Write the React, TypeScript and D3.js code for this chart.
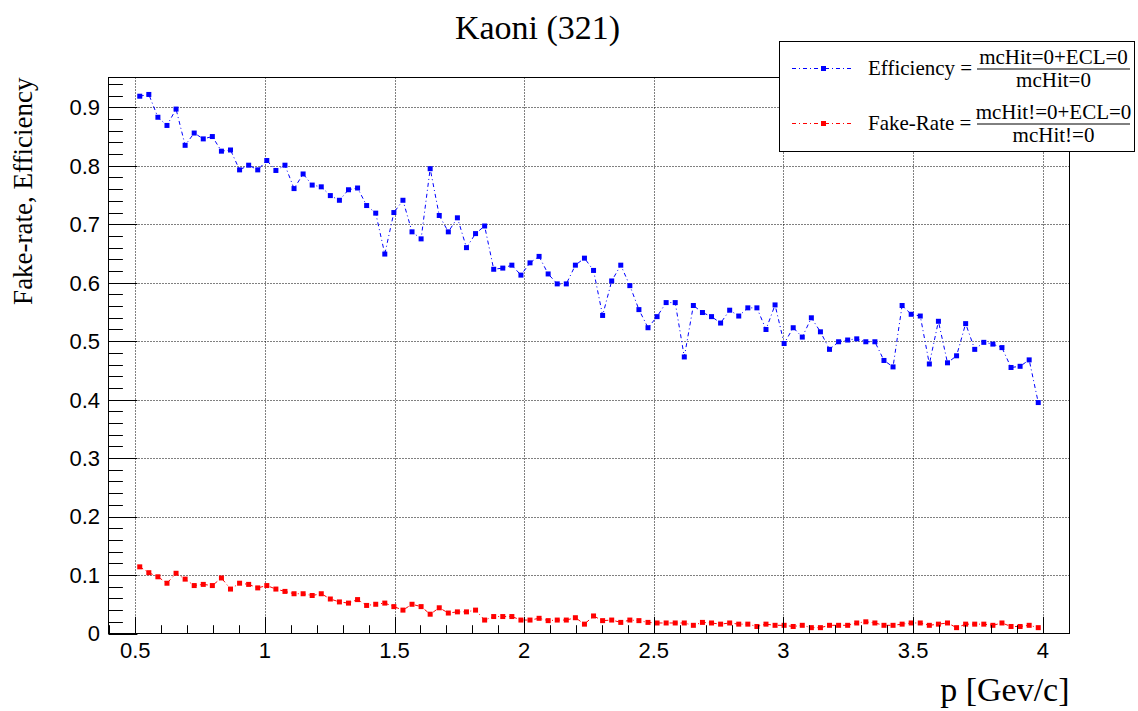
import React from "react";
import * as d3 from "d3";

// ---- data ----
const binLow = 0.5;
const binHigh = 4.0;
const nBins = 100;

const efficiency = [
  0.919, 0.922, 0.883, 0.869, 0.897, 0.835, 0.856, 0.846, 0.850, 0.825,
  0.827, 0.793, 0.801, 0.793, 0.809, 0.792, 0.801, 0.761, 0.786, 0.767,
  0.764, 0.749, 0.741, 0.759, 0.762, 0.732, 0.719, 0.649, 0.720, 0.741,
  0.687, 0.675, 0.795, 0.715, 0.687, 0.711, 0.660, 0.684, 0.697, 0.623,
  0.625, 0.630, 0.613, 0.634, 0.645, 0.615, 0.598, 0.598, 0.630, 0.642,
  0.621, 0.544, 0.603, 0.630, 0.595, 0.554, 0.523, 0.542, 0.566, 0.566,
  0.473, 0.561, 0.549, 0.542, 0.531, 0.553, 0.543, 0.557, 0.557, 0.520,
  0.562, 0.496, 0.523, 0.507, 0.540, 0.516, 0.486, 0.499, 0.502, 0.504,
  0.499, 0.499, 0.467, 0.456, 0.561, 0.546, 0.543, 0.461, 0.534, 0.463,
  0.475, 0.530, 0.486, 0.498, 0.495, 0.489, 0.455, 0.457, 0.468, 0.395,
];

const fakeRate = [
  0.114, 0.104, 0.097, 0.086, 0.103, 0.093, 0.082, 0.084, 0.082, 0.095,
  0.076, 0.086, 0.084, 0.078, 0.082, 0.076, 0.072, 0.068, 0.068, 0.065,
  0.068, 0.059, 0.054, 0.052, 0.058, 0.048, 0.050, 0.052, 0.046, 0.040,
  0.050, 0.046, 0.033, 0.044, 0.035, 0.037, 0.037, 0.040, 0.023, 0.029,
  0.029, 0.029, 0.023, 0.023, 0.026, 0.022, 0.023, 0.023, 0.027, 0.016,
  0.030, 0.022, 0.023, 0.019, 0.023, 0.022, 0.019, 0.018, 0.018, 0.018,
  0.018, 0.014, 0.019, 0.018, 0.016, 0.018, 0.016, 0.016, 0.012, 0.016,
  0.014, 0.014, 0.012, 0.014, 0.010, 0.010, 0.014, 0.014, 0.014, 0.018,
  0.020, 0.018, 0.014, 0.014, 0.016, 0.018, 0.018, 0.014, 0.016, 0.018,
  0.010, 0.016, 0.016, 0.016, 0.014, 0.018, 0.012, 0.012, 0.014, 0.010,
];

const xTickLabels = ["0.5", "1", "1.5", "2", "2.5", "3", "3.5", "4"];
const yTickLabels = ["0", "0.1", "0.2", "0.3", "0.4", "0.5", "0.6", "0.7", "0.8", "0.9"];

const titleText = "Kaoni (321)";
const xTitle = "p [Gev/c]";
const yTitle = "Fake-rate, Efficiency";

// ---- layout ----
const W = 1138;
const H = 711;
const L = 108.5, R = 1069.5, T = 77.5, B = 633.5;
const serif = "'Liberation Serif', 'Times New Roman', serif";
const sans = "'Liberation Sans', Arial, Helvetica, sans-serif";
const dash = "4,3,1,3";

export default function App() {
  const binW = (binHigh - binLow) / nBins;
  const centers = d3.range(nBins).map((i) => binLow + binW * (i + 0.5));

  const x = d3.scaleLinear().domain([0.397, 4.103]).range([L, R]);
  const y = d3.scaleLinear().domain([0, 0.951]).range([B, T]);

  const effPts: [number, number][] = efficiency.map((v, i) => [centers[i], v]);
  const fakePts: [number, number][] = fakeRate.map((v, i) => [centers[i], v]);
  const line = d3
    .line<[number, number]>()
    .x((d) => x(d[0]))
    .y((d) => y(d[1]));

  const xMajor = xTickLabels.map(Number);
  const yMajor = yTickLabels.map(Number);
  const xMinor = d3.range(4, 42).map((k) => k / 10).filter((v) => v >= x.domain()[0] && v <= x.domain()[1]);
  const yMinor = d3.range(0, 48).map((k) => k * 0.02).filter((v) => v <= y.domain()[1]);

  const ms = 5;

  const legendEntries = [
    { color: "#0000ff", label: "Efficiency =", num: "mcHit=0+ECL=0", den: "mcHit=0", cy: 68.5 },
    { color: "#ff0000", label: "Fake-Rate =", num: "mcHit!=0+ECL=0", den: "mcHit!=0", cy: 123.5 },
  ];

  return (
    <svg
      width={W}
      height={H}
      style={{ position: "absolute", left: 0, top: 0, background: "#fff" }}
      xmlns="http://www.w3.org/2000/svg"
    >
      <rect x={0} y={0} width={W} height={H} fill="#fff" />
      {/* title */}
      <text x={537.5} y={38.5} textAnchor="middle" fontFamily={serif} fontSize={34} fill="#000">
        {titleText}
      </text>

      {/* grid */}
      <g stroke="#000" strokeWidth={1} strokeDasharray="1,2">
        {xMajor.map((v) => (
          <line key={"gx" + v} x1={Math.round(x(v)) + 0.5} x2={Math.round(x(v)) + 0.5} y1={T} y2={B} />
        ))}
        {yMajor.filter((v) => v > 0).map((v) => (
          <line key={"gy" + v} x1={L} x2={R} y1={Math.round(y(v)) + 0.5} y2={Math.round(y(v)) + 0.5} />
        ))}
      </g>

      {/* series lines */}
      <path d={line(effPts) || ""} fill="none" stroke="#0000ff" strokeWidth={1} strokeDasharray={dash} />
      <path d={line(fakePts) || ""} fill="none" stroke="#ff0000" strokeWidth={1} strokeDasharray={dash} />

      {/* markers */}
      {effPts.map((d, i) => (
        <rect key={"e" + i} x={x(d[0]) - ms / 2} y={y(d[1]) - ms / 2} width={ms} height={ms} fill="#0000ff" />
      ))}
      {fakePts.map((d, i) => (
        <rect key={"f" + i} x={x(d[0]) - ms / 2} y={y(d[1]) - ms / 2} width={ms} height={ms} fill="#ff0000" />
      ))}

      {/* frame */}
      <rect x={L} y={T} width={R - L} height={B - T} fill="none" stroke="#000" strokeWidth={1} />

      {/* ticks */}
      <g stroke="#000" strokeWidth={1}>
        {xMinor.map((v) => {
          const isMajor = xMajor.some((m) => Math.abs(m - v) < 1e-6);
          const px = Math.round(x(v)) + 0.5;
          return <line key={"tx" + v} x1={px} x2={px} y1={B} y2={B - (isMajor ? 16.7 : 8.3)} />;
        })}
        {yMinor.map((v) => {
          const isMajor = yMajor.some((m) => Math.abs(m - v) < 1e-6);
          const py = Math.round(y(v)) + 0.5;
          return <line key={"ty" + v} x1={L} x2={L + (isMajor ? 28.9 : 14.4)} y1={py} y2={py} />;
        })}
      </g>

      {/* tick labels */}
      {xTickLabels.map((t) => (
        <text key={"xl" + t} x={x(Number(t))} y={658} textAnchor="middle" fontFamily={sans} fontSize={22} fill="#000">
          {t}
        </text>
      ))}
      {yTickLabels.map((t) => (
        <text
          key={"yl" + t}
          x={100}
          y={y(Number(t))}
          dy="0.36em"
          textAnchor="end"
          fontFamily={sans}
          fontSize={22}
          fill="#000"
        >
          {t}
        </text>
      ))}

      {/* axis titles */}
      <text x={R} y={701} textAnchor="end" fontFamily={serif} fontSize={34} fill="#000">
        {xTitle}
      </text>
      <text
        transform={`translate(32,${T}) rotate(-90)`}
        textAnchor="end"
        fontFamily={serif}
        fontSize={27}
        fill="#000"
      >
        {yTitle}
      </text>

      {/* legend */}
      <rect x={779.5} y={41.5} width={355} height={110} fill="#fff" stroke="#000" strokeWidth={1} />
      {legendEntries.map((e) => (
        <g key={e.label}>
          <line x1={792} x2={853} y1={e.cy} y2={e.cy} stroke={e.color} strokeWidth={1} strokeDasharray={dash} />
          <rect x={823.5 - ms / 2} y={e.cy - ms / 2} width={ms} height={ms} fill={e.color} />
          <text x={868} y={e.cy + 6.5} fontFamily={serif} fontSize={21} fill="#000">
            {e.label}
          </text>
          <text x={1053.5} y={e.cy - 4.5} textAnchor="middle" fontFamily={serif} fontSize={21} fill="#000">
            {e.num}
          </text>
          <line x1={977} x2={1130} y1={e.cy + 0.5} y2={e.cy + 0.5} stroke="#000" strokeWidth={1} />
          <text x={1053.5} y={e.cy + 18} textAnchor="middle" fontFamily={serif} fontSize={21} fill="#000">
            {e.den}
          </text>
        </g>
      ))}
    </svg>
  );
}
